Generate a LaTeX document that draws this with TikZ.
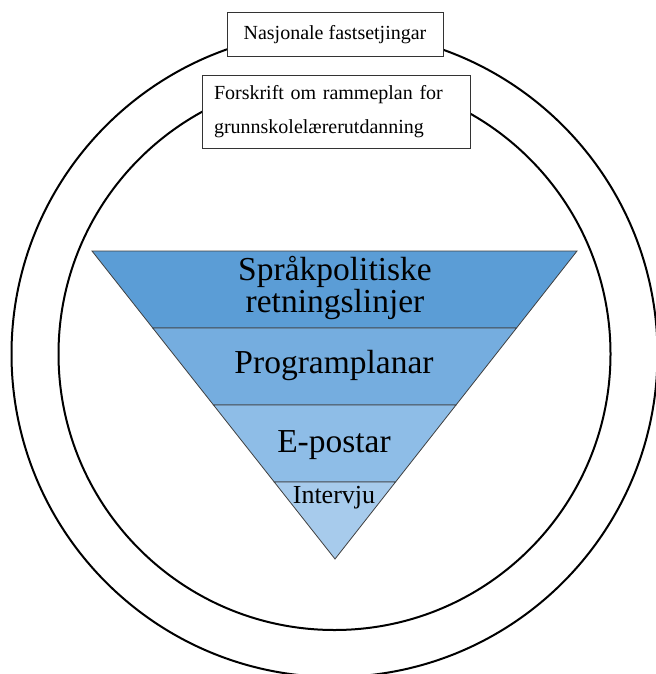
\documentclass[tikz,border=0pt]{standalone}
\usepackage{xcolor}
\usepackage{fontspec}
\setmainfont{Liberation Serif}
\definecolor{bandone}{RGB}{91,157,214}
\definecolor{bandtwo}{RGB}{117,173,223}
\definecolor{bandthree}{RGB}{142,189,231}
\definecolor{bandfour}{RGB}{167,203,236}

\begin{document}
\begin{tikzpicture}[x=.5pt,y=-.5pt,
    ring/.style={line width=1pt},
    band/.style={draw=black!75,line width=.4pt},
    framebox/.style={draw=black!80,fill=white,line width=.5pt},
    bandtext/.style={font=\fontsize{16.75}{16}\selectfont,align=center}]
             \useasboundingbox (0,0) rectangle (655,674);

             % rings
             \draw[ring] (334.5,354) circle[radius=161.5pt];
             \draw[ring] (334.5,354) circle[radius=138pt];

             \node[framebox,font=\fontsize{10}{12}\selectfont,minimum width=108pt,minimum height=22pt] (nasjonal) at (335,35) {Nasjonale fastsetjingar};
             \node[framebox,font=\fontsize{10}{17}\selectfont,text width=122pt,inner xsep=6pt,align=left,minimum height=36pt] (forskrift) at (336,112) {Forskrift om rammeplan for\\grunnskolelærerutdanning};

             % funnel
             \draw[band,fill=bandone] (92,251) -- (577,251) -- (516.5,328) -- (152.75,328) -- cycle;
             \draw[band,fill=bandtwo] (152.75,328) -- (516.5,328) -- (456,405) -- (213.5,405) -- cycle;
             \draw[band,fill=bandthree] (213.5,405) -- (456,405) -- (395.5,482) -- (274.25,482) -- cycle;
             \draw[band,fill=bandfour] (274.25,482) -- (395.5,482) -- (335,559) -- cycle;

             \node[bandtext] (sprak) at (335,288) {Språkpolitiske\\retningslinjer};
             \node[bandtext,anchor=base] (program) at (334,373) {Programplanar};
             \node[bandtext,anchor=base] (epost) at (334,452) {E-postar};
             \node[font=\fontsize{13}{15}\selectfont,anchor=base] (intervju) at (334,503) {Intervju};
\end{tikzpicture}
\end{document}
